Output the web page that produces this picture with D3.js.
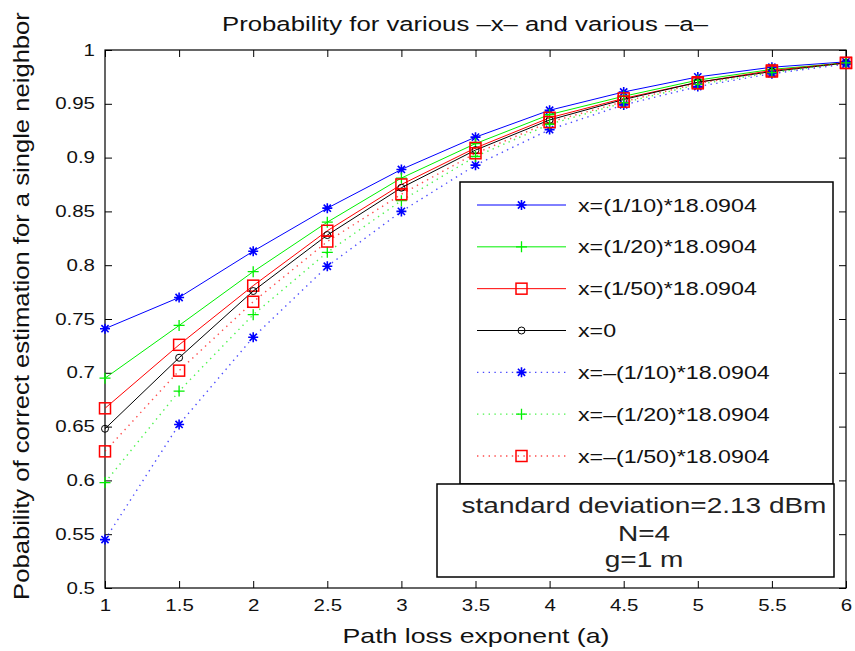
<!DOCTYPE html>
<html>
<head>
<meta charset="utf-8">
<script src="https://cdn.jsdelivr.net/npm/d3@7/dist/d3.min.js"></script>
<style>
  html, body { margin: 0; padding: 0; background: #fff; }
  svg { display: block; font-family: "Liberation Sans", Arial, Helvetica, sans-serif; }
</style>
</head>
<body>
<svg id="chart" width="855" height="651"></svg>
<script>
// Path loss exponent values (x axis)
const exponents = [1, 1.5, 2, 2.5, 3, 3.5, 4, 4.5, 5, 5.5, 6];

// Probability of correct estimation for each offset x
const plusTenth      = [0.741, 0.770, 0.813, 0.853, 0.889, 0.919, 0.944, 0.961, 0.975, 0.984, 0.989];
const plusTwentieth  = [0.695, 0.744, 0.794, 0.840, 0.881, 0.913, 0.940, 0.957, 0.972, 0.982, 0.988];
const plusFiftieth   = [0.667, 0.726, 0.781, 0.832, 0.875, 0.909, 0.937, 0.955, 0.970, 0.981, 0.988];
const zeroOffset     = [0.648, 0.714, 0.776, 0.828, 0.872, 0.907, 0.935, 0.954, 0.970, 0.980, 0.988];
const minusTenth     = [0.545, 0.652, 0.733, 0.799, 0.850, 0.893, 0.926, 0.949, 0.966, 0.978, 0.987];
const minusTwentieth = [0.598, 0.683, 0.754, 0.812, 0.860, 0.901, 0.931, 0.951, 0.968, 0.979, 0.988];
const minusFiftieth  = [0.627, 0.702, 0.766, 0.822, 0.866, 0.904, 0.933, 0.952, 0.969, 0.980, 0.988];

const seriesNames = [
  "x=(1/10)*18.0904",
  "x=(1/20)*18.0904",
  "x=(1/50)*18.0904",
  "x=0",
  "x=–(1/10)*18.0904",
  "x=–(1/20)*18.0904",
  "x=–(1/50)*18.0904"
];

const xTicks = [1, 1.5, 2, 2.5, 3, 3.5, 4, 4.5, 5, 5.5, 6];
const yTicks = [0.5, 0.55, 0.6, 0.65, 0.7, 0.75, 0.8, 0.85, 0.9, 0.95, 1];

const infoLines = ["standard deviation=2.13 dBm", "N=4", "g=1 m"];

// Series styling (colour, marker, dash)
const series = [
  { name: seriesNames[0], values: plusTenth,      color: "#0000ff", marker: "star",   dotted: false },
  { name: seriesNames[1], values: plusTwentieth,  color: "#00f000", marker: "plus",   dotted: false },
  { name: seriesNames[2], values: plusFiftieth,   color: "#ff0000", marker: "square", dotted: false },
  { name: seriesNames[3], values: zeroOffset,     color: "#000000", marker: "circle", dotted: false },
  { name: seriesNames[4], values: minusTenth,     color: "#0000ff", marker: "star",   dotted: true },
  { name: seriesNames[5], values: minusTwentieth, color: "#00f000", marker: "plus",   dotted: true },
  { name: seriesNames[6], values: minusFiftieth,  color: "#ff0000", marker: "square", dotted: true }
];

// Glyphs are drawn horizontally widened, like the Helvetica rendering of the figure
const TEXT_STRETCH = 1.28;

const svg = d3.select("#chart");
const plot = { left: 105, right: 846, top: 50, bottom: 588 };

const x = d3.scaleLinear().domain([1, 6]).range([plot.left, plot.right]);
const y = d3.scaleLinear().domain([0.5, 1]).range([plot.bottom, plot.top]);

// Places a text so that its run spans `width` pixels, widening the glyphs
function fitText(parent, str, opts) {
  const g = parent.append("g").attr("transform", `translate(${opts.x},${opts.y}) rotate(${opts.rotate || 0})`);
  const t = g.append("text")
    .attr("text-anchor", opts.anchor || "middle")
    .style("font-size", opts.size + "px")
    .attr("fill", opts.fill || "#111")
    .text(str);
  let sx = opts.scale;
  if (!sx) {
    const natural = t.node().getComputedTextLength();
    sx = opts.width / natural;
  }
  t.attr("transform", `scale(${sx},${opts.cross || 1})`);
  return sx;
}

// Axes with inward ticks on all four sides
const fmt = d => d3.format("")(d);
const axisStyle = g => {
  g.select(".domain").remove();
  g.selectAll(".tick line").attr("stroke", "#000").attr("stroke-width", 1);
  g.selectAll(".tick text").attr("fill", "#111").style("font-size", "16px")
    .style("font-family", "'Liberation Sans', Arial, sans-serif");
};

svg.append("g").attr("transform", `translate(0,${plot.bottom})`)
  .call(d3.axisBottom(x).tickValues(xTicks).tickFormat(fmt).tickSizeInner(-7).tickSizeOuter(0).tickPadding(12))
  .call(axisStyle)
  .call(g => g.selectAll(".tick text").attr("transform", `scale(${TEXT_STRETCH},1)`));
svg.append("g").attr("transform", `translate(0,${plot.top})`)
  .call(d3.axisTop(x).tickValues(xTicks).tickFormat("").tickSizeInner(-7).tickSizeOuter(0))
  .call(axisStyle);
svg.append("g").attr("transform", `translate(${plot.left},0)`)
  .call(d3.axisLeft(y).tickValues(yTicks).tickFormat(fmt).tickSizeInner(-7).tickSizeOuter(0).tickPadding(10 / TEXT_STRETCH))
  .call(axisStyle)
  .call(g => g.selectAll(".tick text").attr("transform", `scale(${TEXT_STRETCH},1)`));
svg.append("g").attr("transform", `translate(${plot.right},0)`)
  .call(d3.axisRight(y).tickValues(yTicks).tickFormat("").tickSizeInner(-7).tickSizeOuter(0))
  .call(axisStyle);

// Axes box
svg.append("rect")
  .attr("x", plot.left).attr("y", plot.top)
  .attr("width", plot.right - plot.left).attr("height", plot.bottom - plot.top)
  .attr("fill", "none").attr("stroke", "#000").attr("stroke-width", 1.2);

// Marker drawing helper
function drawMarker(g, type, color, cx, cy) {
  if (type === "star") {
    const r = 5;
    const d = r * 0.72;
    g.append("path")
      .attr("d", `M${cx - r},${cy}L${cx + r},${cy}M${cx},${cy - r}L${cx},${cy + r}` +
                 `M${cx - d},${cy - d}L${cx + d},${cy + d}M${cx - d},${cy + d}L${cx + d},${cy - d}`)
      .attr("stroke", color).attr("stroke-width", 1.6).attr("fill", "none");
  } else if (type === "plus") {
    const r = 5.5;
    g.append("path")
      .attr("d", `M${cx - r},${cy}L${cx + r},${cy}M${cx},${cy - r}L${cx},${cy + r}`)
      .attr("stroke", color).attr("stroke-width", 1.3).attr("fill", "none");
  } else if (type === "square") {
    const s = 11;
    g.append("rect")
      .attr("x", cx - s / 2).attr("y", cy - s / 2).attr("width", s).attr("height", s)
      .attr("stroke", color).attr("stroke-width", 1.5).attr("fill", "none");
  } else if (type === "circle") {
    g.append("circle")
      .attr("cx", cx).attr("cy", cy).attr("r", 3.5)
      .attr("stroke", color).attr("stroke-width", 1).attr("fill", "none");
  }
}

const line = d3.line().x(d => x(d[0])).y(d => y(d[1]));

// Lines and markers
const plotG = svg.append("g");
series.forEach(s => {
  const pts = exponents.map((a, i) => [a, s.values[i]]);
  const g = plotG.append("g");
  g.append("path")
    .attr("d", line(pts))
    .attr("fill", "none")
    .attr("stroke", s.color)
    .attr("stroke-width", s.dotted ? 1.4 : 1)
    .attr("stroke-dasharray", s.dotted ? "1.4,4.4" : null)
    .attr("opacity", s.dotted ? 0.7 : 1);
  pts.forEach(p => drawMarker(g, s.marker, s.color, x(p[0]), y(p[1])));
});

// Legend
const legend = { left: 460, top: 182, right: 833, bottom: 484 };
svg.append("rect")
  .attr("x", legend.left).attr("y", legend.top)
  .attr("width", legend.right - legend.left).attr("height", legend.bottom - legend.top)
  .attr("fill", "#fff").attr("stroke", "#000").attr("stroke-width", 1.5);

const legendRowY = d3.scaleLinear().domain([0, 6]).range([205, 456]);
let legendScale = null;
series.forEach((s, i) => {
  const ly = legendRowY(i);
  const g = svg.append("g");
  g.append("line")
    .attr("x1", 477).attr("x2", 566).attr("y1", ly).attr("y2", ly)
    .attr("stroke", s.color)
    .attr("stroke-width", s.dotted ? 1.4 : 1)
    .attr("stroke-dasharray", s.dotted ? "1.4,4.4" : null)
    .attr("opacity", s.dotted ? 0.7 : 1);
  drawMarker(g, s.marker, s.color, 521.5, ly);
  const sc = fitText(g, s.name, { x: 578, y: ly + 6.5, size: 18, anchor: "start", width: 179, scale: legendScale, fill: "#111" });
  if (legendScale === null) legendScale = sc;
});

// Parameter box
const info = { left: 437, top: 484, right: 834, bottom: 577 };
svg.append("rect")
  .attr("x", info.left).attr("y", info.top)
  .attr("width", info.right - info.left).attr("height", info.bottom - info.top)
  .attr("fill", "#fff").attr("stroke", "#000").attr("stroke-width", 1.5);
const infoBase = [513, 541, 567];
let infoScale = null;
infoLines.forEach((txt, i) => {
  const sc = fitText(svg, txt, { x: 644, y: infoBase[i], size: 21.5, width: 365, scale: infoScale, fill: "#222" });
  if (infoScale === null) infoScale = sc;
});

// Title and axis labels
fitText(svg, "Probability for various –x– and various –a–", { x: 465, y: 30.5, size: 20.5, width: 486 });
fitText(svg, "Path loss exponent (a)", { x: 476, y: 643, size: 21, width: 267 });
fitText(svg, "Pobability of correct estimation for a single neighbor",
  { x: 29, y: 306, rotate: -90, size: 19.5, width: 588, cross: 1.15 });
</script>
</body>
</html>
